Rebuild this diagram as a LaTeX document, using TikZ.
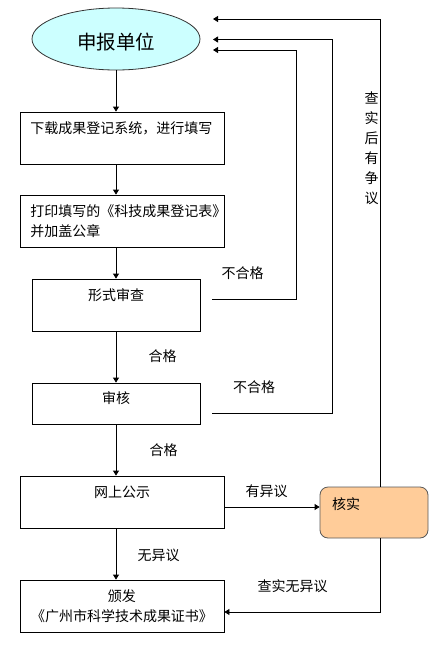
\documentclass[tikz,border=0pt]{standalone}
\usepackage{fontspec}
\newfontfamily\cjk{Noto Sans CJK SC}
\usepackage{tikz}
\usetikzlibrary{shapes.geometric,arrows.meta,positioning}

\definecolor{unitfill}{RGB}{204,255,255}
\definecolor{checkfill}{RGB}{255,204,153}

\begin{document}
\begin{tikzpicture}[x=1pt, y=-1pt, font=\cjk\fontsize{14}{20}\selectfont,
  line width=0.8pt,
  flow/.style={-{Triangle[length=5pt,width=6pt]}},
  stage/.style={draw, rectangle, minimum height=52pt},
  wide/.style={stage, minimum width=204pt},
  narrow/.style={stage, minimum width=168pt},
  txt/.style={inner sep=0pt}]
  \useasboundingbox (0,0) rectangle (440,646);

  % boxes
  \node[draw=black!80, fill=unitfill, ellipse, minimum width=168pt, minimum height=62pt] (unit) at (116,39) {};
  \node[txt, font=\cjk\fontsize{19.5}{22}\selectfont] (unittext) at (116.5,42) {申报单位};
  \node[wide] (fill) at (122,138) {};
  \node[txt, anchor=west] (filltext) at (30,128) {下载成果登记系统，进行填写};
  \node[wide] (print) at (122,221) {};
  \node[txt, anchor=west, align=left] (printtext) at (30,221) {打印填写的《科技成果登记表》\\并加盖公章};
  \node[narrow] (check) at (116,305) {};
  \node[txt] (checktext) at (116,295) {形式审查};
  \node[narrow, minimum height=41pt] (review) at (116,403.5) {};
  \node[txt] (reviewtext) at (116,398.5) {审核};
  \node[wide] (publish) at (122,502) {};
  \node[txt] (publishtext) at (122,492.5) {网上公示};
  \node[draw=black!65, fill=checkfill, rounded corners=8pt, minimum width=108pt, minimum height=51pt] (verify) at (374,512.5) {};
  \node[txt] (verifytext) at (346,504.5) {核实};
  \node[wide] (issue) at (122,606) {};
  \node[txt, align=center] (issuetext) at (122,606) {颁发\\《广州市科学技术成果证书》};

  % arrow ends at the unit
  \coordinate (back1) at (213,19);
  \coordinate (back2) at (213,39.5);
  \coordinate (back3) at (213,50);

  % main line
  \draw[flow] (unit.south) -- (unit.south |- fill.north);
  \draw[flow] (unit.south |- fill.south) -- (unit.south |- print.north);
  \draw[flow] (unit.south |- print.south) -- (check.north);
  \draw[flow] (check.south) -- (review.north);
  \draw[flow] (review.south) -- (review.south |- publish.north);
  \draw[flow] (review.south |- publish.south) -- (review.south |- issue.north);
  \draw[flow] ([yshift=-5pt]publish.east) -- ([yshift=-5pt]publish.east -| verify.west);

  % feedback
  \draw[flow] ([xshift=12pt,yshift=6pt]check.east) -| (296,50) -- (back3);
  \draw[flow] ([xshift=12pt,yshift=-10pt]review.east) -| (332,39.5) -- (back2);
  \draw[flow] ([xshift=6pt]verify.north) |- (back1);
  \draw[flow] ([xshift=6pt]verify.south) |- ([yshift=-6pt]issue.east);

  % labels
  \node[txt] (fail1) at (242.5,273.5) {不合格};
  \node[txt] (fail2) at (254,387.5) {不合格};
  \node[txt] (pass1) at (162.5,356.5) {合格};
  \node[txt] (pass2) at (163.5,450) {合格};
  \node[txt] (object) at (266.5,491.5) {有异议};
  \node[txt] (noobject) at (158.5,555) {无异议};
  \node[txt] (clear) at (292.5,586) {查实无异议};
  \node[txt, align=center] (dispute) at (371.5,148) {查\\实\\后\\有\\争\\议};
\end{tikzpicture}
\end{document}
